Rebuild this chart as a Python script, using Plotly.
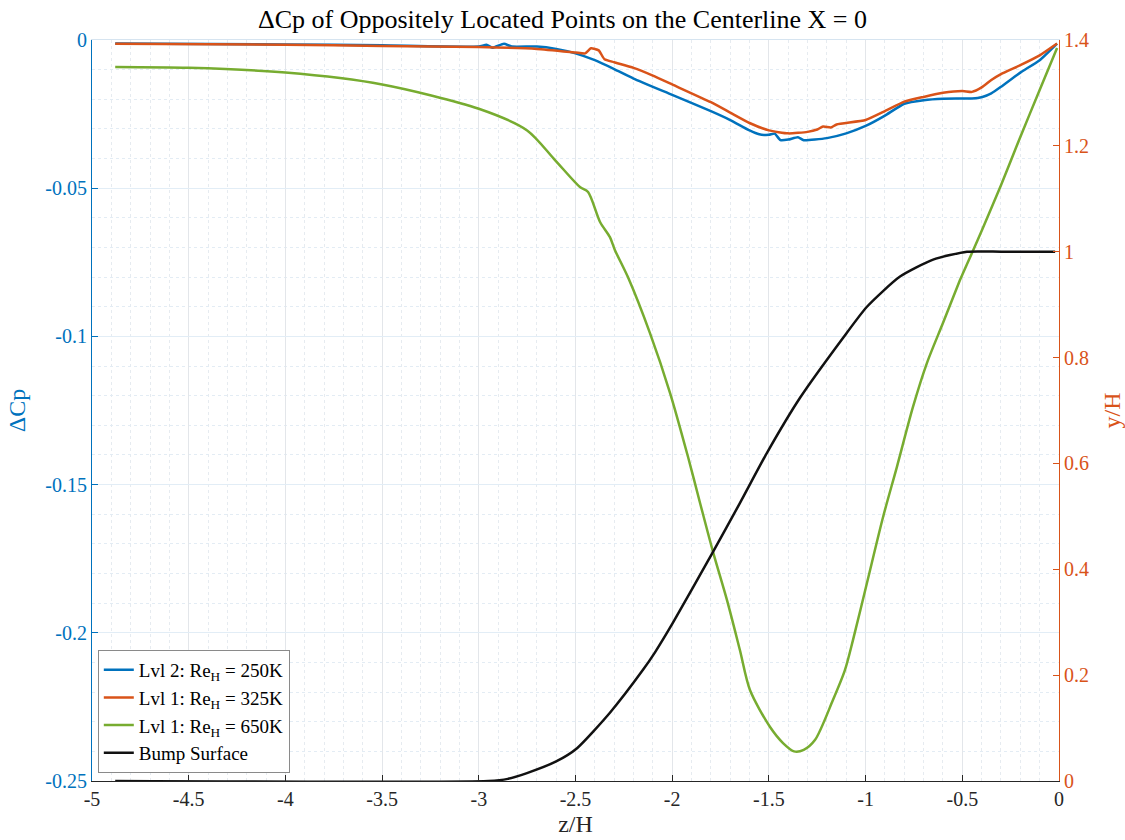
import plotly.graph_objects as go

# ---- data ----
z_blue = [-4.88, -4.0, -3.5, -3.0, -2.96, -2.93, -2.87, -2.83, -2.7, -2.6, -2.5, -2.4, -2.3, -2.2,
          -2.0, -1.8, -1.7, -1.6, -1.55, -1.5, -1.47, -1.44, -1.4, -1.35, -1.32, -1.2, -1.1, -1.0,
          -0.9, -0.8, -0.7, -0.6, -0.45, -0.4, -0.35, -0.3, -0.2, -0.1, -0.01]
cp_blue = [-0.0012, -0.0015, -0.0018, -0.0022, -0.0016, -0.0026, -0.0013, -0.0022, -0.0022, -0.0030,
           -0.0045, -0.0068, -0.0098, -0.0130, -0.0185, -0.0240, -0.0270, -0.0305, -0.0318, -0.0320,
           -0.0316, -0.0338, -0.0336, -0.0328, -0.0338, -0.0331, -0.0315, -0.0290, -0.0255, -0.0215,
           -0.0203, -0.0198, -0.0197, -0.0193, -0.0180, -0.0158, -0.0110, -0.0068, -0.0012]

z_orange = [-4.88, -4.0, -3.5, -3.0, -2.7, -2.5, -2.45, -2.42, -2.38, -2.35, -2.3, -2.2, -2.1, -2.0,
            -1.8, -1.7, -1.6, -1.5, -1.4, -1.3, -1.25, -1.22, -1.18, -1.15, -1.0, -0.9, -0.8, -0.7,
            -0.6, -0.5, -0.45, -0.4, -0.35, -0.3, -0.2, -0.1, -0.01]
cp_orange = [-0.0013, -0.0016, -0.0020, -0.0024, -0.0030, -0.0042, -0.0045, -0.0028, -0.0035, -0.0065,
             -0.0075, -0.0094, -0.0120, -0.0150, -0.0210, -0.0245, -0.0280, -0.0305, -0.0315, -0.0310,
             -0.0302, -0.0292, -0.0295, -0.0285, -0.0270, -0.0240, -0.0208, -0.0192, -0.0178, -0.0172,
             -0.0175, -0.0160, -0.0135, -0.0115, -0.0085, -0.0052, -0.0012]

z_green = [-4.88, -4.5, -4.0, -3.5, -3.0, -2.75, -2.606, -2.477, -2.435, -2.373, -2.322, -2.296,
           -2.229, -2.115, -2.011, -1.918, -1.856, -1.789, -1.717, -1.650, -1.598, -1.494, -1.427,
           -1.37, -1.32, -1.262, -1.169, -1.107, -1.065, -0.993, -0.910, -0.838, -0.755, -0.683,
           -0.600, -0.512, -0.496, -0.450, -0.398, -0.3, -0.2, -0.1, -0.01]
cp_green = [-0.0091, -0.0094, -0.0110, -0.0150, -0.0232, -0.0305, -0.0405, -0.0496, -0.0513, -0.0614,
            -0.0665, -0.0709, -0.0800, -0.0989, -0.1191, -0.1407, -0.1562, -0.1727, -0.1889, -0.2058,
            -0.2193, -0.2318, -0.2372, -0.2400, -0.2395, -0.2362, -0.2227, -0.2126, -0.2024, -0.1832,
            -0.1610, -0.1440, -0.1238, -0.1090, -0.0955, -0.0810, -0.0786, -0.0719, -0.0641, -0.0490,
            -0.0327, -0.0169, -0.0027]

z_bump = [-4.88, -2.95, -2.85, -2.751, -2.6, -2.492, -2.322, -2.151, -2.089, -1.996, -1.789, -1.65,
          -1.510, -1.339, -1.117, -0.993, -0.822, -0.651, -0.476, -0.3, -0.15, -0.02]
yh_bump = [0.0, 0.0, 0.004, 0.015, 0.037, 0.062, 0.129, 0.210, 0.243, 0.299, 0.433, 0.525,
           0.620, 0.724, 0.837, 0.896, 0.953, 0.985, 1.0, 1.0, 1.0, 1.0]

x_ticks = [-5, -4.5, -4, -3.5, -3, -2.5, -2, -1.5, -1, -0.5, 0]
x_ticklabels = ["-5", "-4.5", "-4", "-3.5", "-3", "-2.5", "-2", "-1.5", "-1", "-0.5", "0"]
yl_ticks = [0, -0.05, -0.1, -0.15, -0.2, -0.25]
yl_ticklabels = ["0", "-0.05", "-0.1", "-0.15", "-0.2", "-0.25"]
yr_ticks = [0, 0.2, 0.4, 0.6, 0.8, 1.0, 1.2, 1.4]
yr_ticklabels = ["0", "0.2", "0.4", "0.6", "0.8", "1", "1.2", "1.4"]

BLUE = "#0072BD"
ORANGE = "#D95319"
GREEN = "#77AC30"
DARK = "#262626"
FONT = "Liberation Serif"

fig = go.Figure()
fig.add_trace(go.Scatter(x=z_blue, y=cp_blue, mode="lines",
                         line=dict(color=BLUE, width=2.5, shape="spline", smoothing=0.5),
                         name="Lvl 2: Re<sub>H</sub> = 250K", yaxis="y"))
fig.add_trace(go.Scatter(x=z_orange, y=cp_orange, mode="lines",
                         line=dict(color=ORANGE, width=2.5, shape="spline", smoothing=0.5),
                         name="Lvl 1: Re<sub>H</sub> = 325K", yaxis="y"))
fig.add_trace(go.Scatter(x=z_green, y=cp_green, mode="lines",
                         line=dict(color=GREEN, width=2.5, shape="spline", smoothing=0.8),
                         name="Lvl 1: Re<sub>H</sub> = 650K", yaxis="y"))
fig.add_trace(go.Scatter(x=z_bump, y=yh_bump, mode="lines",
                         line=dict(color="#111111", width=2.5, shape="spline", smoothing=0.6),
                         name="Bump Surface", yaxis="y2"))

fig.update_layout(
    width=1125, height=840,
    margin=dict(l=92, r=66, t=40, b=59, autoexpand=False),
    paper_bgcolor="white", plot_bgcolor="white",
    font=dict(family=FONT, size=19, color=DARK),
    title=dict(text="ΔCp of Oppositely Located Points on the Centerline X = 0",
               x=0.5, xanchor="center", y=0.978, yanchor="middle",
               font=dict(family=FONT, size=26, color="#000000")),
    showlegend=True,
    legend=dict(x=0.006, y=0.011, xanchor="left", yanchor="bottom",
                bgcolor="white", bordercolor="#8a8a8a", borderwidth=1,
                font=dict(family=FONT, size=19, color="#000000"),
                itemwidth=30, tracegroupgap=0),
    xaxis=dict(range=[-5, 0], tickmode="array", tickvals=x_ticks, ticktext=x_ticklabels,
               ticks="inside", ticklen=6, tickcolor=DARK, automargin=False,
               showline=True, linecolor=DARK, linewidth=1, mirror=False,
               showgrid=True, gridcolor="#e3e6ea", gridwidth=1,
               zeroline=False,
               minor=dict(dtick=0.1, showgrid=True, gridcolor="#e6ebf0", griddash="dot", gridwidth=1),
               title=dict(text="z/H", font=dict(family=FONT, size=24, color=DARK), standoff=6),
               tickfont=dict(family=FONT, size=20, color=DARK)),
    xaxis2=dict(range=[-5, 0], overlaying="x", side="top", showline=True, linecolor="#d6e4f0",
                showticklabels=False, ticks="", showgrid=False, zeroline=False, matches="x",
                automargin=False),
    yaxis=dict(range=[-0.25, 0], tickmode="array", tickvals=yl_ticks, ticktext=yl_ticklabels,
               ticks="inside", ticklen=6, tickcolor=BLUE, automargin=False,
               showline=True, linecolor=BLUE, linewidth=1,
               showgrid=True, gridcolor="#e2edf6", gridwidth=1, zeroline=False,
               minor=dict(dtick=0.01, showgrid=True, gridcolor="#e3ecf4", griddash="dot", gridwidth=1),
               title=dict(text="ΔCp", font=dict(family=FONT, size=24, color=BLUE), standoff=12),
               tickfont=dict(family=FONT, size=20, color=BLUE)),
    yaxis2=dict(range=[0, 1.4], tickmode="array", tickvals=yr_ticks, ticktext=yr_ticklabels,
                overlaying="y", side="right", anchor="x", automargin=False,
                ticks="inside", ticklen=6, tickcolor=ORANGE,
                showline=True, linecolor=ORANGE, linewidth=1,
                showgrid=False, zeroline=False,
                title=dict(text="y/H", font=dict(family=FONT, size=24, color=ORANGE), standoff=18),
                tickfont=dict(family=FONT, size=20, color=ORANGE)),
)

# invisible trace to activate the top box line
fig.add_trace(go.Scatter(x=[-5, 0], y=[0, 0], xaxis="x2", yaxis="y", mode="lines",
                         line=dict(width=0), showlegend=False, hoverinfo="skip"))

fig.write_html("out.html")
